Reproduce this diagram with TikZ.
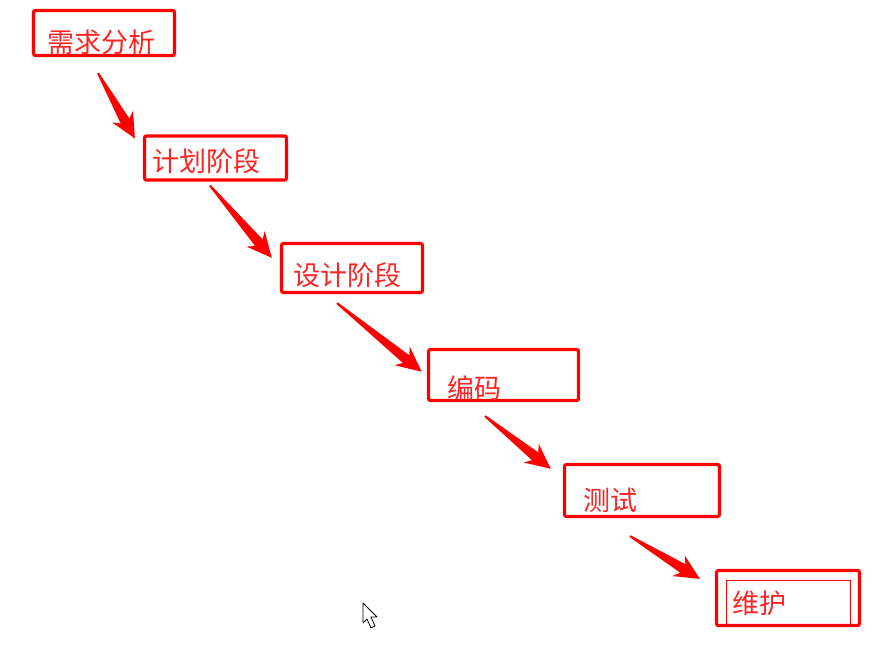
\documentclass[tikz,border=0pt]{standalone}
\usepackage{fontspec}
\newfontfamily\cjk{Noto Sans CJK SC}
\usetikzlibrary{calc}
\definecolor{boxred}{HTML}{FF0000}
\definecolor{textred}{HTML}{FF2424}
\tikzset{
    stage-box/.style = {draw=boxred, line width=3.2pt, rectangle, rounded corners=2pt, inner sep=0pt},
    stage-inner/.style = {draw=boxred, line width=1pt, rectangle, inner sep=0pt},
    stage-text/.style = {text=textred, font=\cjk\fontsize{27}{27}\selectfont, inner sep=0pt, anchor=west},
    stage-arrow/.style = {fill=boxred},
}

\begin{document}
\begin{tikzpicture}[x=1pt, y=1pt]
\useasboundingbox (0,0) rectangle (894,-653);

\node [stage-box, minimum width=141, minimum height=45] (xuqiu) at (104,-33) {};
\node [stage-box, minimum width=142, minimum height=44] (jihua) at (215.5,-158) {};
\node [stage-box, minimum width=141, minimum height=49] (sheji) at (352,-268) {};
\node [stage-box, minimum width=150, minimum height=51] (bianma) at (503.5,-375) {};
\node [stage-box, minimum width=155, minimum height=52] (ceshi) at (642,-490.5) {};
\node [stage-box, minimum width=143, minimum height=55] (weihu) at (788,-598) {};
\node [stage-inner, minimum width=124, minimum height=46] (weihu-inner) at (788,-603.5) {};

\node [stage-text] (xuqiu-text) at ($(xuqiu.west)+(15,-9.5)$) {需求分析};
\node [stage-text] (jihua-text) at ($(jihua.west)+(9,-3.5)$) {计划阶段};
\node [stage-text] (sheji-text) at ($(sheji.west)+(13,-7)$) {设计阶段};
\node [stage-text] (bianma-text) at ($(bianma.west)+(20,-13.5)$) {编码};
\node [stage-text] (ceshi-text) at ($(ceshi.west)+(20,-9.5)$) {测试};
\node [stage-text] (weihu-text) at ($(weihu.west)+(17,-5.5)$) {维护};

\coordinate (tail1) at ($(xuqiu.south)+(-6,-16)$);
\coordinate (tip1) at ($(jihua.north west)+(-8,-4)$);
\coordinate (tail2) at ($(jihua.south)+(-5.5,-4)$);
\coordinate (tip2) at ($(sheji.north west)+(-8,-16)$);
\coordinate (tail3) at ($(sheji.south)+(-15,-9)$);
\coordinate (tip3) at ($(bianma.north west)+(-5,-24)$);
\coordinate (tail4) at ($(bianma.south)+(-18.5,-14)$);
\coordinate (tip4) at ($(ceshi.north west)+(-12,-6)$);
\coordinate (tail5) at ($(ceshi.south)+(-12,-18)$);
\coordinate (tip5) at ($(weihu.north west)+(-15,-10)$);

\foreach \src/\dst in {tail1/tip1, tail2/tip2, tail3/tip3, tail4/tip4, tail5/tip5}
    \fill [stage-arrow] let \p1 = ($(\dst)-(\src)$), \n1 = {atan2(\y1,\x1)}, \n2 = {veclen(\x1,\y1)} in
        [shift={(\src)}, rotate=\n1] (0,-1) -- (\n2-20,-5) -- (\n2-25,-12) -- (\n2,0) -- (\n2-25,12) -- (\n2-20,5) -- (0,1) -- cycle;

\draw [black, fill=white, line width=0.8pt, line join=round] (363,-603) -- (363,-623) -- (367,-619) -- (371,-628) -- (375,-626) -- (371,-617) -- (377,-617) -- cycle;
\end{tikzpicture}
\end{document}
